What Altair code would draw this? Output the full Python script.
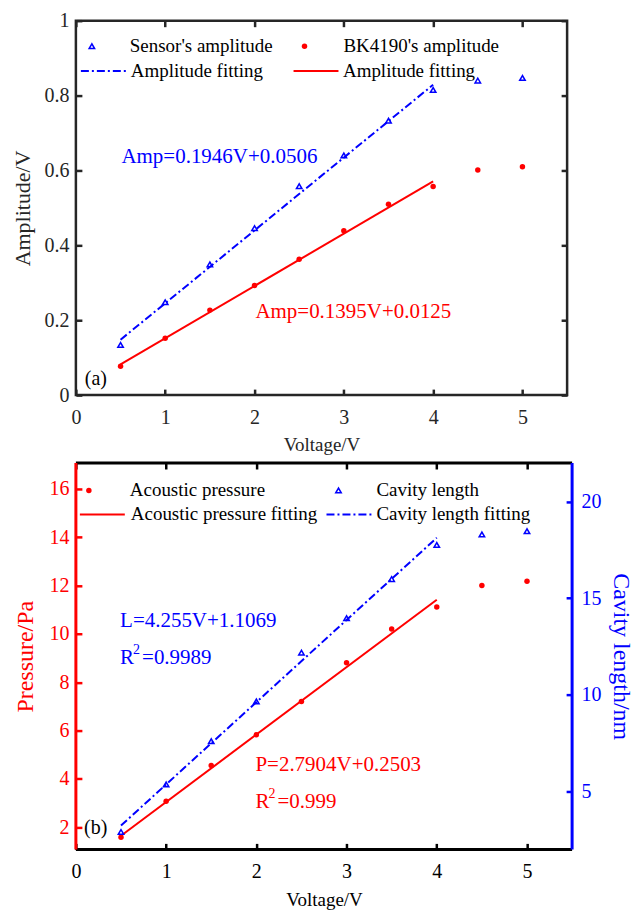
import altair as alt
import pandas as pd

# ---------------- data ----------------
voltage = [0.5, 1.0, 1.5, 2.0, 2.5, 3.0, 3.5, 4.0, 4.5, 5.0]
sensor_amplitude = [0.134, 0.248, 0.349, 0.446, 0.558, 0.640, 0.733, 0.815, 0.840, 0.847]
bk4190_amplitude = [0.077, 0.152, 0.227, 0.293, 0.363, 0.439, 0.510, 0.557, 0.601, 0.610]
fit_voltage = [0.5, 4.0]
sensor_fit = [0.148, 0.829]
bk4190_fit = [0.082, 0.571]

acoustic_pressure = [1.58, 3.07, 4.55, 5.82, 7.20, 8.80, 10.20, 11.11, 12.00, 12.18]
cavity_length = [2.90, 5.36, 7.60, 9.66, 12.18, 13.97, 15.99, 17.76, 18.30, 18.47]
pressure_fit = [1.645, 11.41]
cavity_fit = [3.234, 18.129]

x_ticks = [0, 1, 2, 3, 4, 5]
amp_ticks = [0, 0.2, 0.4, 0.6, 0.8, 1]
pressure_ticks = [2, 4, 6, 8, 10, 12, 14, 16]
cavity_ticks = [5, 10, 15, 20]

# annotations (text, voltage, value)
top_blue_note = ["Amp=0.1946V+0.0506"]
top_blue_x = [0.51]
top_blue_y = [0.636]
top_red_note = ["Amp=0.1395V+0.0125"]
top_red_x = [2.01]
top_red_y = [0.222]
panel_a = ["(a)"]
panel_a_x = [0.10]
panel_a_y = [0.043]

bot_blue_note = ["L=4.255V+1.1069"]
bot_blue_x = [0.49]
bot_blue_y = [10.55]
bot_blue_r2 = ["=0.9989"]
bot_blue_r2_y = [9.01]
bot_red_note = ["P=2.7904V+0.2503"]
bot_red_x = [1.99]
bot_red_y = [4.59]
bot_red_r2 = ["=0.999"]
bot_red_r2_y = [3.06]
panel_b = ["(b)"]
panel_b_x = [0.09]
panel_b_y = [1.98]

# ---------------- style ----------------
FONT = "Liberation Serif"
BLUE = "#0000FF"
RED = "#FF0000"
INK = "#262626"
TICK = 6
DASHDOT = [8, 3, 2, 3]

W1, H1 = 492, 375
W2, H2 = 497, 387

X_SCALE = alt.Scale(domain=[0, 5.5], nice=False, zero=False)
AMP_SCALE = alt.Scale(domain=[0, 1], nice=False, zero=False)
P_SCALE = alt.Scale(domain=[1.08, 17.07], nice=False, zero=False)
L_SCALE = alt.Scale(domain=[2, 22], nice=False, zero=False)


def axis(orient, values, color, labels=True, title=None, label_pad=7, title_pad=6,
         title_size=19):
    kw = dict(orient=orient, values=values, grid=False, domain=False,
              ticks=True, tickSize=TICK, tickWidth=2.5, tickColor=color,
              offset=-TICK, labels=labels, format="~g")
    if labels:
        kw.update(labelFont=FONT, labelFontSize=20, labelColor=color,
                  labelPadding=label_pad, labelFlush=False, labelOverlap=False)
    if title:
        kw.update(title=title, titleFont=FONT, titleFontSize=title_size,
                  titleFontWeight="normal", titleColor=color, titlePadding=title_pad)
    else:
        kw["title"] = None
    return alt.Axis(**kw)


def legend(x, y, offset, **kw):
    return alt.Legend(orient="none", legendX=x, legendY=y, title=None, padding=0,
                      labelFont=FONT, labelFontSize=19, labelColor="black",
                      labelOffset=offset, labelLimit=0, **kw)


def series_points(xs, ys, label, color, yscale, shape, filled, leg, xaxis=None, yaxis=None):
    df = pd.DataFrame({"v": xs, "y": ys, "lab": label})
    return alt.Chart(df).mark_point(shape=shape, filled=filled, size=30,
                                    strokeWidth=1.5, opacity=1).encode(
        x=alt.X("v:Q", scale=X_SCALE, axis=xaxis),
        y=alt.Y("y:Q", scale=yscale, axis=yaxis),
        color=alt.Color("lab:N", scale=alt.Scale(range=[color]), legend=leg),
    )


def series_line(xs, ys, label, color, yscale, leg, dash=None):
    df = pd.DataFrame({"v": xs, "y": ys, "lab": label})
    mk = dict(strokeWidth=2)
    if dash:
        mk["strokeDash"] = dash
    return alt.Chart(df).mark_line(**mk).encode(
        x=alt.X("v:Q", scale=X_SCALE, axis=None),
        y=alt.Y("y:Q", scale=yscale, axis=None),
        color=alt.Color("lab:N", scale=alt.Scale(range=[color]), legend=leg),
    )


def note(texts, xs, ys, yscale, color, size=21, dx=0, dy=0):
    df = pd.DataFrame({"t": texts, "v": xs, "y": ys})
    return alt.Chart(df).mark_text(align="left", baseline="middle", font=FONT,
                                   fontSize=size, color=color, dx=dx, dy=dy).encode(
        x=alt.X("v:Q", scale=X_SCALE, axis=None),
        y=alt.Y("y:Q", scale=yscale, axis=None),
        text="t:N",
    )


# ---------------- panel (a) ----------------
sensor_pts = series_points(
    voltage, sensor_amplitude, "Sensor's amplitude", BLUE, AMP_SCALE, "triangle-up", False,
    legend(6.5, 16, 28.5, symbolType="triangle-up", symbolSize=30, symbolStrokeWidth=1.5,
           symbolFillColor=BLUE),
    xaxis=axis("bottom", x_ticks, INK, title="Voltage/V", label_pad=12, title_pad=8),
    yaxis=axis("left", amp_ticks, INK, title="Amplitude/V", label_pad=7, title_pad=9,
               title_size=22),
)
sensor_line = series_line(
    fit_voltage, sensor_fit, "Amplitude fitting", BLUE, AMP_SCALE,
    legend(4, 27, 4, symbolType="stroke", symbolSize=2025, symbolStrokeWidth=2,
           symbolDash=DASHDOT),
    dash=DASHDOT,
)
bk_pts = series_points(
    voltage, bk4190_amplitude, "BK4190's amplitude", RED, AMP_SCALE, "circle", True,
    legend(219.5, 16, 29.5, symbolType="circle", symbolSize=30),
)
bk_line = series_line(
    fit_voltage, bk4190_fit, "Amplitude fitting", RED, AMP_SCALE,
    legend(217, 27, 3.5, symbolType="stroke", symbolSize=2025, symbolStrokeWidth=2),
)
frame_a = alt.Chart(pd.DataFrame({"v": voltage, "y": sensor_amplitude})).mark_point(
    opacity=0).encode(
    x=alt.X("v:Q", scale=X_SCALE, axis=axis("top", x_ticks, INK, labels=False)),
    y=alt.Y("y:Q", scale=AMP_SCALE, axis=axis("right", amp_ticks, INK, labels=False)),
)

top = alt.layer(
    sensor_line, bk_line, sensor_pts, bk_pts,
    note(top_blue_note, top_blue_x, top_blue_y, AMP_SCALE, BLUE),
    note(top_red_note, top_red_x, top_red_y, AMP_SCALE, RED),
    note(panel_a, panel_a_x, panel_a_y, AMP_SCALE, "black", size=20),
    frame_a,
).resolve_scale(color="independent").properties(
    width=W1, height=H1, view=alt.ViewBackground(stroke=INK, strokeWidth=2.5))

# ---------------- panel (b) ----------------
pressure_pts = series_points(
    voltage, acoustic_pressure, "Acoustic pressure", RED, P_SCALE, "circle", True,
    legend(3.5, 18, 31.5, symbolType="circle", symbolSize=30),
    xaxis=axis("bottom", x_ticks, "black", title="Voltage/V", label_pad=12, title_pad=9),
    yaxis=axis("left", pressure_ticks, RED, title="Pressure/Pa", label_pad=7, title_pad=11,
               title_size=24),
)
pressure_line = series_line(
    fit_voltage, pressure_fit, "Acoustic pressure fitting", RED, P_SCALE,
    legend(3, 28, 5, symbolType="stroke", symbolSize=2025, symbolStrokeWidth=2),
)
cavity_pts = series_points(
    voltage, cavity_length, "Cavity length", BLUE, L_SCALE, "triangle-up", False,
    legend(253.5, 18, 28.5, symbolType="triangle-up", symbolSize=30, symbolStrokeWidth=1.5,
           symbolFillColor=BLUE),
    yaxis=axis("right", cavity_ticks, BLUE, title="Cavity length/nm", label_pad=9,
               title_pad=7, title_size=24),
)
cavity_line = series_line(
    fit_voltage, cavity_fit, "Cavity length fitting", BLUE, L_SCALE,
    legend(250, 28, 4, symbolType="stroke", symbolSize=2025, symbolStrokeWidth=2,
           symbolDash=DASHDOT),
    dash=DASHDOT,
)
frame_b_top = alt.Chart(pd.DataFrame({"v": voltage})).mark_point(opacity=0).encode(
    x=alt.X("v:Q", scale=X_SCALE, axis=axis("top", x_ticks, "black", labels=False)),
)
one = pd.DataFrame({"k": [0]})
spine_top = alt.Chart(one).mark_rule(color="black", strokeWidth=3).encode(
    x=alt.value(0), x2=alt.value(W2), y=alt.value(0))
spine_bottom = alt.Chart(one).mark_rule(color="black", strokeWidth=3).encode(
    x=alt.value(0), x2=alt.value(W2), y=alt.value(H2))
spine_left = alt.Chart(one).mark_rule(color=RED, strokeWidth=3).encode(
    x=alt.value(0), y=alt.value(0), y2=alt.value(H2))
spine_right = alt.Chart(one).mark_rule(color=BLUE, strokeWidth=3).encode(
    x=alt.value(W2), y=alt.value(0), y2=alt.value(H2))

bottom = alt.layer(
    pressure_line, cavity_line, pressure_pts, cavity_pts,
    note(bot_blue_note, bot_blue_x, bot_blue_y, P_SCALE, BLUE),
    note(["R"], bot_blue_x, bot_blue_r2_y, P_SCALE, BLUE),
    note(["2"], bot_blue_x, bot_blue_r2_y, P_SCALE, BLUE, size=14, dx=13, dy=-8),
    note(bot_blue_r2, bot_blue_x, bot_blue_r2_y, P_SCALE, BLUE, dx=22),
    note(bot_red_note, bot_red_x, bot_red_y, P_SCALE, RED),
    note(["R"], bot_red_x, bot_red_r2_y, P_SCALE, RED),
    note(["2"], bot_red_x, bot_red_r2_y, P_SCALE, RED, size=14, dx=13, dy=-8),
    note(bot_red_r2, bot_red_x, bot_red_r2_y, P_SCALE, RED, dx=22),
    note(panel_b, panel_b_x, panel_b_y, P_SCALE, "black", size=20),
    frame_b_top, spine_top, spine_bottom, spine_left, spine_right,
).resolve_scale(y="independent", color="independent").properties(
    width=W2, height=H2, view=alt.ViewBackground(stroke="transparent"))

chart = alt.vconcat(top, bottom, spacing=68, bounds="flush").properties(
    padding={"left": 2, "top": 0, "right": 2, "bottom": 0}
).configure(font=FONT)

chart.save("out.html", embed_options={"renderer": "svg", "actions": False})
